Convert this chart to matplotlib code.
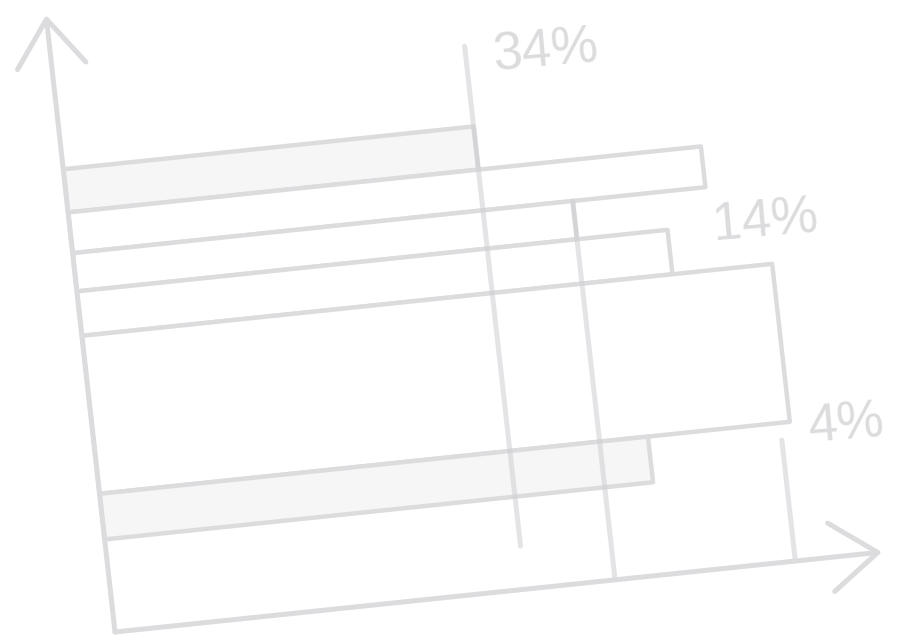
import matplotlib
matplotlib.use("Agg")
import matplotlib.pyplot as plt
from matplotlib.transforms import Affine2D

# bars, bottom row first is last in list (chart units 0..100 on both axes)
bar_values = [53.5, 82.5, 65.2, 77.0, 90.0, 71.5]
bar_bottoms = [68.0, 61.4, 55.2, 48.0, 22.4, 15.0]
bar_tops = [75.0, 68.0, 61.4, 55.2, 48.0, 22.4]
bar_filled = [True, False, False, False, False, True]

# reference lines with their labels
ref_x = [53.5, 65.2, 88.7]
ref_from = [7.0, 0.0, 0.0]
ref_to = [88.0, 61.4, 19.6]
ref_labels = ["34%", "14%", "4%"]
label_pos = [(63.8, 85.7), (89.7, 54.8), (97.2, 20.9)]

line_col = "#dcdcde"
fill_col = "#f6f6f6"

fig = plt.figure(figsize=(8.97, 6.37), dpi=100)
ax = fig.add_axes([0, 0, 1, 1])
ax.set_xlim(0, 897)
ax.set_ylim(637, 0)
ax.axis("off")

# tilted sketch plane: chart units -> canvas pixels
tr = Affine2D.from_values(7.67, -0.80, -0.69, -6.17, 115, 632) + ax.transData

heights = [t - b for t, b in zip(bar_tops, bar_bottoms)]
centers = [(t + b) / 2 for t, b in zip(bar_tops, bar_bottoms)]
ax.barh(centers, bar_values, height=heights, left=0,
        color=[fill_col if f else "white" for f in bar_filled],
        edgecolor=line_col, linewidth=3.2, joinstyle="round",
        transform=tr, zorder=2)

for x, a, b in zip(ref_x, ref_from, ref_to):
    ax.plot([x, x], [a, b], color="#cfcfd3", alpha=0.55, lw=3.6,
            solid_capstyle="round", transform=tr, zorder=3)

for (u, v), lab in zip(label_pos, ref_labels):
    ax.text(u, v, lab, transform=tr, rotation=5, ha="center", va="center",
            fontsize=38, color=line_col, family="Liberation Sans", zorder=4)

# axes with open arrow heads
for tip in [(0, 100), (100, 0)]:
    ax.annotate("", xy=tip, xytext=(0, 0), xycoords=tr, textcoords=tr,
                arrowprops=dict(arrowstyle="->,head_length=0.75,head_width=0.55",
                                mutation_scale=45, color=line_col, lw=3.6,
                                shrinkA=0, shrinkB=0, capstyle="round",
                                joinstyle="round"), zorder=5)

fig.savefig("out.png", dpi=100)
